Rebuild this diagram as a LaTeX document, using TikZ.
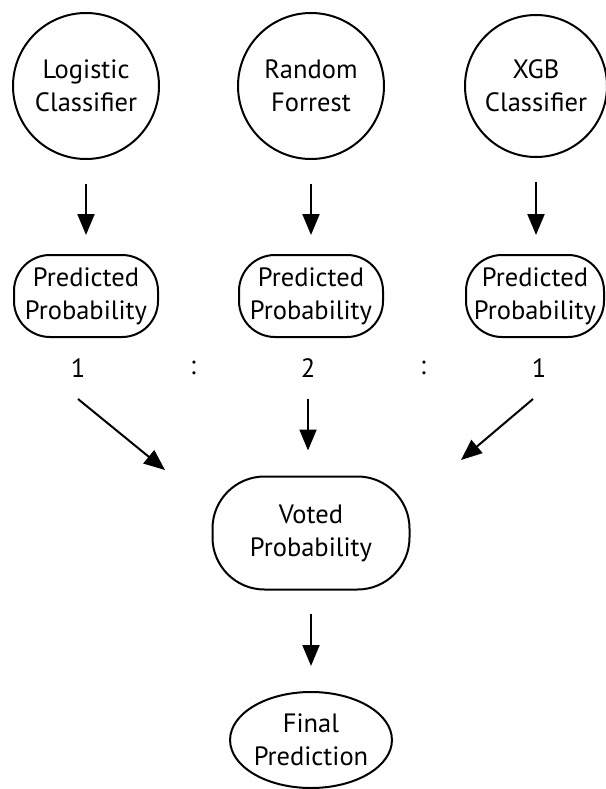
\documentclass[tikz,border=0pt]{standalone}
\usepackage{fontspec}
\setmainfont{PT Sans}
\usetikzlibrary{arrows.meta}
\usetikzlibrary{shapes.geometric}

\begin{document}
\begin{tikzpicture}[x=1pt, y=-1pt, line width=2pt,
	arrows={-Triangle[length=21pt,width=17pt]},
	every node/.style={font=\fontsize{26.5}{33}\selectfont},
	model/.style={draw, circle, minimum size=146pt, inner sep=0pt, align=center},
	prob/.style={draw, rounded corners=36pt, minimum width=144pt, minimum height=82pt, inner sep=0pt, align=center},
	vote/.style={draw, rounded corners=52pt, minimum width=197pt, minimum height=113pt, inner sep=0pt, align=center},
	final/.style={draw, ellipse, minimum width=160pt, minimum height=96pt, inner sep=0pt, align=center}]
	\useasboundingbox (0,0) rectangle (605,789);

	\node[model] (LC) at (86,86) {Logistic\\Classifier};
	\node[model] (RF) at (311,86) {Random\\Forrest};
	\node[model, minimum size=142pt] (XGB) at (536,86) {XGB\\Classifier};

	\node[prob] (P1) at (86,296) {Predicted\\Probability};
	\node[prob] (P2) at (311,296) {Predicted\\Probability};
	\node[prob, minimum width=138pt] (P3) at (535,296) {Predicted\\Probability};

	\node (W1) at (78,368) {1};
	\node (C1) at (193,368) {:};
	\node (W2) at (308,368) {2};
	\node (C2) at (423,368) {:};
	\node (W3) at (539,368) {1};

	\node[vote] (V) at (311,533) {Voted\\Probability};
	\node[final] (F) at (311,740) {Final\\Prediction};

	\coordinate (A1) at (165,470);
	\coordinate (A3) at (461,460);

	\draw[shorten <=24pt, shorten >=19pt] (LC.south) -- (P1.north);
	\draw[shorten <=24pt, shorten >=19pt] (RF.south) -- (P2.north);
	\draw[shorten <=24pt, shorten >=19pt] (XGB.south) -- (XGB.south |- P3.north);

	\draw (W1.center) ++(0,31) -- (A1);
	\draw[shorten >=25pt] (W2.center) ++(0,31) -- (W2.center |- V.north);
	\draw (W3.center) ++(-6,31) -- (A3);

	\draw[shorten <=23pt, shorten >=25pt] (V.south) -- (F.north);
\end{tikzpicture}
\end{document}
